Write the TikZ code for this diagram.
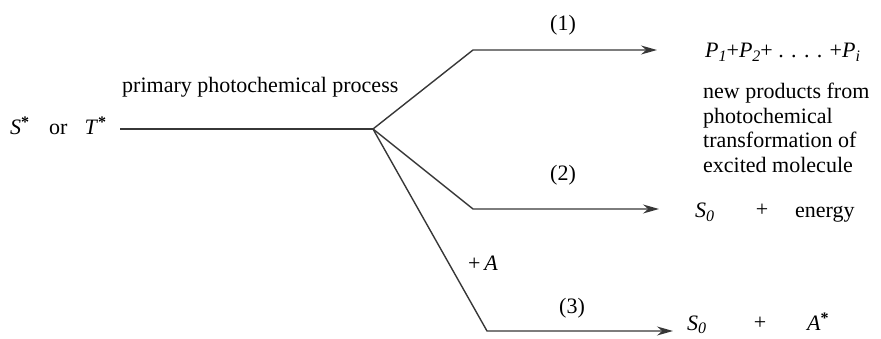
\documentclass[tikz,border=0pt]{standalone}
\usepackage{fontspec}
\setmainfont{Liberation Serif}
\usetikzlibrary{arrows.meta}
\definecolor{linegray}{RGB}{55,55,55}
% raised asterisk for excited states, italic lowered index
\newcommand{\exc}{\raisebox{7pt}{\fontsize{16}{16}\selectfont\bfseries *}}
\newcommand{\idx}[1]{\raisebox{-3.5pt}{\fontsize{16}{16}\selectfont\textit{#1}}}
\begin{document}
\begin{tikzpicture}[x=1pt,y=-1pt,
  every node/.style={font=\fontsize{22}{24.5}\selectfont, inner sep=0pt, text=black},
  flow/.style={draw=linegray, line width=1.4pt, line join=round},
  flowarrow/.style={flow, -{Stealth[length=16pt,width=9pt]}},
  txt/.style={anchor=base west},
  num/.style={anchor=center}]
\useasboundingbox (0,0) rectangle (881,339);

% source and primary process
\node[txt] (src) at (10,135) {\textit{S}\exc\hspace{20pt}or\hspace{17pt}\textit{T}\exc};
\node[txt] (proc) at (122,93) {primary photochemical process};
\coordinate (start) at (120,129);
\coordinate (J) at (373,129);

% branch bends and arrow ends
\coordinate (b1) at (473,50);  \coordinate (e1) at (657,50);
\coordinate (b2) at (473,209); \coordinate (e2) at (659,209);
\coordinate (b3) at (487,331); \coordinate (e3) at (673,331);

\draw[flow] (start) -- (J);
\draw[flowarrow] (J) -- (b1) -- (e1);
\draw[flowarrow] (J) -- (b2) -- (e2);
\draw[flowarrow] (J) -- (b3) -- (e3);

% branch labels
\node[num] (l1) at (563,25) {(1)};
\node[num] (l2) at (563,175) {(2)};
\node[num] (l3) at (572,308) {(3)};
\node[num] (plusA) at (483,263) {+\,\textit{A}};

% products
\node[txt] (prod) at (705,58) {\textit{P}\idx{1}+\textit{P}\idx{2}+ . . . . +\textit{P}\idx{i}};
\node[anchor=north west, align=left] (desc) at (703,83) {new products from\\photochemical\\transformation of\\excited molecule};

\node[txt] (s0a) at (695,218) {\textit{S}\idx{0}};
\node[num] (pa) at (762,210) {+};
\node[txt] (en) at (795,218) {energy};

\node[txt] (s0b) at (687,330) {\textit{S}\idx{0}};
\node[num] (pb) at (760,323) {+};
\node[txt] (astar) at (807,330) {\textit{A}\exc};
\end{tikzpicture}
\end{document}
